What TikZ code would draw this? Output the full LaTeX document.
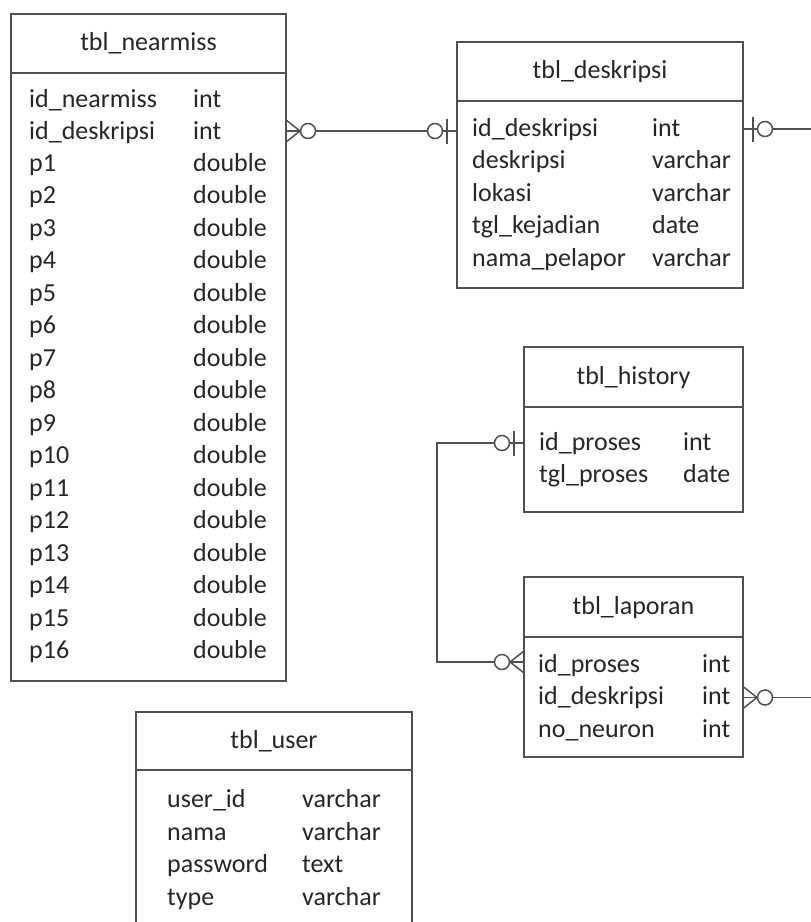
\documentclass[tikz,border=0pt]{standalone}
\usepackage{fontspec}
\setmainfont{Carlito}
\definecolor{ERline}{HTML}{505050}
\definecolor{ERtext}{HTML}{262626}
\usetikzlibrary{positioning}
\newcommand{\erfont}{\fontsize{26}{31}\selectfont}

\begin{document}
\begin{tikzpicture}[x=1pt, y=-1pt,
   tblbox/.style={draw=ERline, line width=1.5pt, rectangle, inner sep=0pt, outer sep=0pt, anchor=north west},
   tbltitle/.style={font=\erfont, text=ERtext, inner sep=0pt, text height=0.7em, text depth=0.22em, yshift=-5pt},
   fld/.style={font=\erfont, text=ERtext, inner sep=0pt, anchor=west, text height=0.7em, text depth=0.22em, yshift=-5pt},
   rel/.style={draw=ERline, line width=1.5pt},
   zeroone/.pic={
      \draw[rel] (10,-12.5) -- (10,12.5);
      \draw[rel, fill=white] (22,0) circle[radius=7.5pt];
   },
   zeromany/.pic={
      \draw[rel] (0,-11) -- (14,0) -- (0,11);
      \draw[rel, fill=white] (22,0) circle[radius=7.5pt];
   }]
   % Frame of the picture
   \clip (0,0) rectangle (811,922);
   % tbl_nearmiss
   \node[tblbox, minimum width=275pt, minimum height=59pt] (nm-head) at (11,14) {};
   \node[tblbox, minimum width=275pt, minimum height=608pt] (nm-body) at (nm-head.south west) {};
   \node[tbltitle] (nm-title) at (nm-head.center) {tbl\_nearmiss};
   \node[fld] (nm-k1) at (29,100) {id\_nearmiss};
   \node[fld] (nm-t1) at (193,100) {int};
   \node[fld] (nm-k2) at (29,132) {id\_deskripsi};
   \node[fld] (nm-t2) at (193,132) {int};
   \foreach \i in {1,...,16} {
      \node[fld] (nm-p\i) at (29,{131.5+32.5*\i}) {p\i};
      \node[fld] (nm-d\i) at (193,{131.5+32.5*\i}) {double};
   }
   % tbl_deskripsi
   \node[tblbox, minimum width=286pt, minimum height=59pt] (ds-head) at (457,42) {};
   \node[tblbox, minimum width=286pt, minimum height=187pt] (ds-body) at (ds-head.south west) {};
   \node[tbltitle] (ds-title) at (ds-head.center) {tbl\_deskripsi};
   \node[fld] (ds-k1) at (472,129) {id\_deskripsi};
   \node[fld] (ds-t1) at (652,129) {int};
   \node[fld] (ds-k2) at (472,161.5) {deskripsi};
   \node[fld] (ds-t2) at (652,161.5) {varchar};
   \node[fld] (ds-k3) at (472,194) {lokasi};
   \node[fld] (ds-t3) at (652,194) {varchar};
   \node[fld] (ds-k4) at (472,226.5) {tgl\_kejadian};
   \node[fld] (ds-t4) at (652,226.5) {date};
   \node[fld] (ds-k5) at (472,259) {nama\_pelapor};
   \node[fld] (ds-t5) at (652,259) {varchar};
   % tbl_history
   \node[tblbox, minimum width=219pt, minimum height=60pt] (hs-head) at (524,347) {};
   \node[tblbox, minimum width=219pt, minimum height=105pt] (hs-body) at (hs-head.south west) {};
   \node[tbltitle] (hs-title) at (hs-head.center) {tbl\_history};
   \node[fld] (hs-k1) at (539,443) {id\_proses};
   \node[fld] (hs-t1) at (683,443) {int};
   \node[fld] (hs-k2) at (539,475) {tgl\_proses};
   \node[fld] (hs-t2) at (683,475) {date};
   % tbl_laporan
   \node[tblbox, minimum width=219pt, minimum height=60pt] (lp-head) at (524,577) {};
   \node[tblbox, minimum width=219pt, minimum height=120pt] (lp-body) at (lp-head.south west) {};
   \node[tbltitle] (lp-title) at (lp-head.center) {tbl\_laporan};
   \node[fld] (lp-k1) at (538,665) {id\_proses};
   \node[fld] (lp-t1) at (702,665) {int};
   \node[fld] (lp-k2) at (538,697.5) {id\_deskripsi};
   \node[fld] (lp-t2) at (702,697.5) {int};
   \node[fld] (lp-k3) at (538,730) {no\_neuron};
   \node[fld] (lp-t3) at (702,730) {int};
   % tbl_user (runs past the bottom edge)
   \node[tblbox, minimum width=276pt, minimum height=58pt] (us-head) at (136,712) {};
   \node[tblbox, minimum width=276pt, minimum height=200pt] (us-body) at (us-head.south west) {};
   \node[tbltitle] (us-title) at (us-head.center) {tbl\_user};
   \node[fld] (us-k1) at (167,800) {user\_id};
   \node[fld] (us-t1) at (302,800) {varchar};
   \node[fld] (us-k2) at (167,833) {nama};
   \node[fld] (us-t2) at (302,833) {varchar};
   \node[fld] (us-k3) at (167,865) {password};
   \node[fld] (us-t3) at (302,865) {text};
   \node[fld] (us-k4) at (167,898) {type};
   \node[fld] (us-t4) at (302,898) {varchar};
   % Relations
   \coordinate (nm-fk) at (nm-body.east |- 0,131);
   \coordinate (ds-pk) at (ds-body.west |- 0,131);
   \coordinate (ds-out) at (ds-body.east |- 0,129);
   \coordinate (ds-far) at (811,129);
   \coordinate (lp-out) at (lp-body.east |- 0,697.5);
   \coordinate (lp-far) at (811,697.5);
   \coordinate (hs-pk) at (hs-body.west |- 0,443);
   \coordinate (lp-fk) at (lp-body.west |- 0,662);
   \draw[rel] (nm-fk) -- (ds-pk);
   \draw[rel] (ds-out) -- (ds-far);
   \draw[rel] (lp-out) -- (lp-far);
   \draw[rel] (hs-pk) -- ++(-87,0) |- (lp-fk);
   \pic at (nm-fk) {zeromany};
   \pic[xscale=-1] at (ds-pk) {zeroone};
   \pic at (ds-out) {zeroone};
   \pic[xscale=-1] at (hs-pk) {zeroone};
   \pic[xscale=-1] at (lp-fk) {zeromany};
   \pic at (lp-out) {zeromany};
\end{tikzpicture}
\end{document}
